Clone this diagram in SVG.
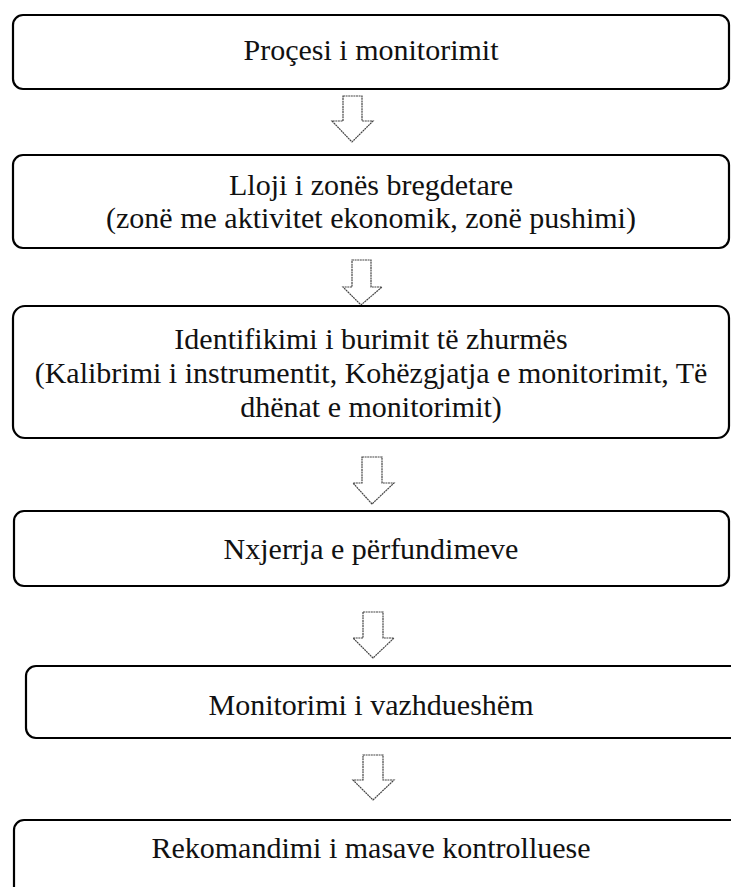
<svg xmlns="http://www.w3.org/2000/svg" width="731" height="887" viewBox="0 0 731 887">
<style>
.box{fill:#fff;stroke:#000;stroke-width:2.2}
.t{font-family:"Liberation Serif","Times New Roman","DejaVu Serif",serif;font-size:30px;fill:#111;text-anchor:middle}
.arr{fill:#fff;stroke:#444;stroke-width:1.2;stroke-dasharray:2 0.6}
</style>
<rect width="731" height="887" fill="#fff"/>
<g id="connectors">
<polygon class="arr" points="343,96 362,96 362,121 373,121 352,142 332,121 343,121"/>
<polygon class="arr" points="352,260 371,260 371,287 382,287 361,305 343,287 352,287"/>
<polygon class="arr" points="362,457 382,457 382,483 394,483 372,504 353,483 362,483"/>
<polygon class="arr" points="363,612 383,612 383,638 394,638 373,658 353,638 363,638"/>
<polygon class="arr" points="363,755 383,755 383,780 394,780 373,800 353,780 363,780"/>
</g>
<g id="n1"><rect class="box" x="13" y="15" width="716" height="74" rx="10"/><text class="t" font-family="Liberation Serif, serif" x="371" y="60">Proçesi i monitorimit</text></g>
<g id="n2"><rect class="box" x="13" y="155" width="716" height="93" rx="10"/><text class="t" font-family="Liberation Serif, serif" x="371" y="195">Lloji i zonës bregdetare</text><text class="t" font-family="Liberation Serif, serif" x="371" y="228">(zonë me aktivitet ekonomik, zonë pushimi)</text></g>
<g id="n3"><rect class="box" x="13" y="306" width="716" height="132" rx="12"/><text class="t" font-family="Liberation Serif, serif" x="371" y="349">Identifikimi i burimit të zhurmës</text><text class="t" font-family="Liberation Serif, serif" x="371" y="383">(Kalibrimi i instrumentit, Kohëzgjatja e monitorimit, Të</text><text class="t" font-family="Liberation Serif, serif" x="371" y="417">dhënat e monitorimit)</text></g>
<g id="n4"><rect class="box" x="14" y="511" width="715" height="75" rx="10"/><text class="t" font-family="Liberation Serif, serif" x="371" y="559">Nxjerrja e përfundimeve</text></g>
<g id="n5"><rect class="box" x="26" y="666" width="720" height="72" rx="10"/><text class="t" font-family="Liberation Serif, serif" x="371" y="715">Monitorimi i vazhdueshëm</text></g>
<g id="n6"><rect class="box" x="14" y="820" width="730" height="80" rx="10"/><text class="t" font-family="Liberation Serif, serif" x="371" y="858">Rekomandimi i masave kontrolluese</text></g>
</svg>
